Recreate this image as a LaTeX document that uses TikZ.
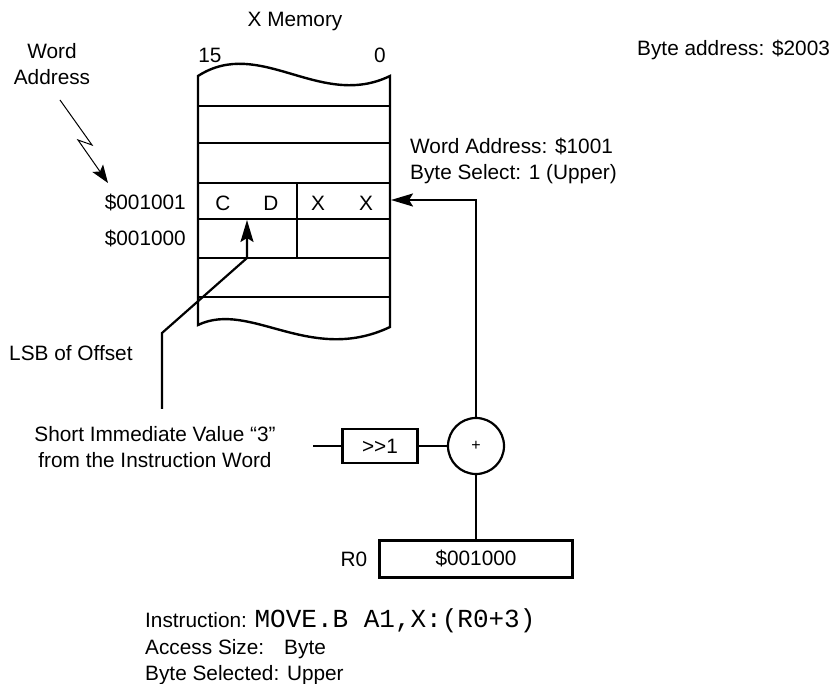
\documentclass[tikz,border=0pt]{standalone}
\usepackage{fontspec}
\setmainfont{Liberation Sans}
\setmonofont{Liberation Mono}
\usetikzlibrary{arrows.meta, positioning, shapes.geometric}

\begin{document}
\begin{tikzpicture}[
    x=1pt, y=-1pt,
    every node/.style={font=\fontsize{20.8}{26.5}\selectfont, inner sep=0pt},
    lbl/.style={align=center},
    blk/.style={rectangle, draw, line width=2.2pt, minimum width=75pt, minimum height=34pt},
    adder/.style={circle, draw, line width=2.2pt, minimum size=56pt, font=\fontsize{16}{18}\selectfont},
    memline/.style={line width=2.4pt},
    memthin/.style={line width=1.3pt},
    link/.style={line width=2.2pt},
    arr/.style={line width=2.2pt, -{Stealth[length=22pt, width=13pt, inset=4pt]}},
    pointer/.style={line width=1pt, -{Stealth[length=18pt, width=13pt, inset=4pt]}}
]
\useasboundingbox (0,0) rectangle (833,684);

% --- X memory block ---
\draw[memline] (198,76) .. controls (260,36) and (320,110) .. (390,76)
    -- (390,327) .. controls (310,365) and (250,300) .. (198,325) -- cycle;
\foreach \yy in {106,143,183,258,297}
    \draw[memline] (198,\yy) -- (390,\yy);
\draw[memthin] (198,219) -- (390,219);
\draw[memthin] (297,183) -- (297,258);

\node[lbl] (xmem) at (295,22) {X Memory};
\node[lbl] (bit15) at (210,55) {15};
\node[lbl] (bit0) at (380,55) {0};
\node[lbl, anchor=west] (byteaddr) at (637,50) {Byte address: \$2003};

% --- cells of word $001001 ---
\node (cellC) at (223,203) {C};
\node (cellD) at (271,203) {D};
\node (cellX1) at (318,203) {X};
\node (cellX2) at (366,203) {X};

\node[anchor=east] (a1001) at (186,203) {\$001001};
\node[anchor=east] (a1000) at (186,239) {\$001000};
\coordinate (memin) at (391,200);
\coordinate (lsbtip) at (247,220);

% --- word address callout ---
\node[lbl] (wordaddr) at (52,64) {Word\\Address};
\coordinate (zzstart) at (60,100);
\coordinate (zzend) at (108,183);
\draw[pointer] (zzstart) -- (92,145) -- (78,140) -- (zzend);

\node[anchor=west, align=left] (wsel) at (410,161) {Word Address: \$1001\\Byte Select: 1 (Upper)};

% --- offset path ---
\node[anchor=west] (lsb) at (9,353) {LSB of Offset};
\node[lbl] (sival) at (155,447) {Short Immediate Value “3”\\from the Instruction Word};
\coordinate (lsbfoot) at (162,409);
\draw[arr] (lsbfoot) -- (162,333) -- (247,258) -- (lsbtip);

\coordinate (siin) at (313,446);
\node[blk] (shift) at (380,446) {>\kern0pt>1};
\node[adder] (add) at (476,446) {+};
\draw[link] (siin) -- (shift);
\draw[link] (shift) -- (add);
\draw[arr] (add.north) |- (memin);

% --- base register ---
\node[blk, minimum width=193pt, minimum height=37pt] (r0) at (476,559) {\$001000};
\node (r0lbl) at (354,559) {R0};
\draw[link] (add.south) -- (r0.north);

% --- instruction summary ---
\node[anchor=west, align=left] (instr) at (145,647) {Instruction: {\fontsize{26}{26.5}\selectfont\ttfamily MOVE.B A1,X:(R0+3)}\\
    Access Size:\hspace{20pt}Byte\\
    Byte Selected: Upper};
\end{tikzpicture}
\end{document}
